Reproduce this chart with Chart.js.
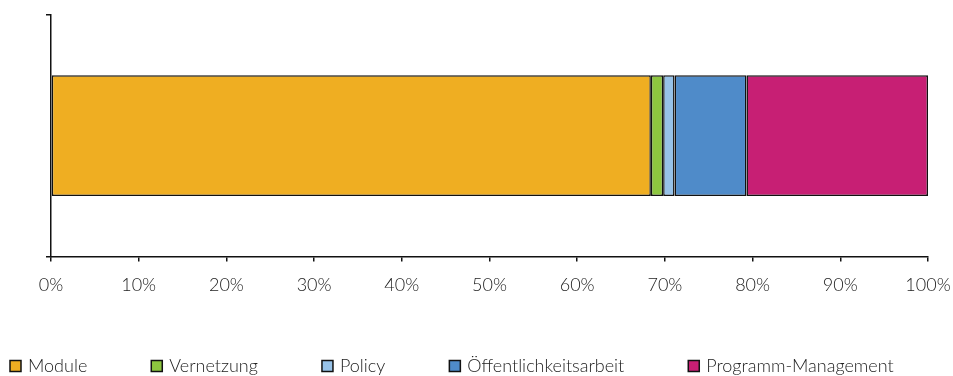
<!DOCTYPE html>
<html>
<head>
<meta charset="utf-8">
<script src="https://cdn.jsdelivr.net/npm/chart.js@4/dist/chart.umd.min.js"></script>
<style>
  body { margin: 0; background: #fff; }
  #wrap { width: 953px; height: 376px; }
</style>
</head>
<body>
<div id="wrap"><canvas id="myChart" width="953" height="376"></canvas></div>
<script>
// data (share in %)
var categories = ['Gesamt'];
var seriesNames = ['Module', 'Vernetzung', 'Policy', 'Öffentlichkeitsarbeit', 'Programm-Management'];
var moduleVals = [68.4];
var vernetzungVals = [1.4];
var policyVals = [1.3];
var oeffentlichVals = [8.2];
var programmVals = [20.7];
var xTicks = [0, 10, 20, 30, 40, 50, 60, 70, 80, 90, 100];

var colors = ['#EFAE22', '#8DC63F', '#97C2E8', '#4F8BC9', '#C71F74'];
var values = [moduleVals, vernetzungVals, policyVals, oeffentlichVals, programmVals];

var fontFamily = 'Lato, "Noto Sans", sans-serif';
Chart.defaults.font.family = fontFamily;
Chart.defaults.font.weight = 300;
Chart.defaults.color = '#333';

// legend drawn along the bottom, left aligned with even gaps
var bottomLegend = {
    id: 'bottomLegend',
    afterDraw: function (chart) {
        var c = chart.ctx;
        c.save();
        c.font = '300 18px ' + fontFamily;
        c.textBaseline = 'middle';
        var x = 10, y = 366;
        chart.data.datasets.forEach(function (ds) {
            c.fillStyle = ds.backgroundColor;
            c.fillRect(x, y - 5.5, 11, 11);
            c.lineWidth = 1.5;
            c.strokeStyle = '#111';
            c.strokeRect(x, y - 5.5, 11, 11);
            c.fillStyle = '#222';
            c.fillText(ds.label, x + 18, y);
            x += 18 + c.measureText(ds.label).width + 64;
        });
        c.restore();
    }
};

var ctx = document.getElementById('myChart').getContext('2d');
var chart = new Chart(ctx, {
    type: 'bar',
    data: {
        labels: categories,
        datasets: seriesNames.map(function (name, i) {
            return {
                label: name,
                data: values[i],
                backgroundColor: colors[i],
                borderColor: '#111',
                borderWidth: 1.5,
                borderSkipped: false,
                barPercentage: 0.5,
                categoryPercentage: 1
            };
        })
    },
    plugins: [bottomLegend],
    options: {
        indexAxis: 'y',
        responsive: false,
        animation: false,
        layout: { padding: { left: 46, right: 0, top: 15, bottom: 67 } },
        plugins: {
            legend: { display: false },
            tooltip: { enabled: false }
        },
        scales: {
            x: {
                stacked: true,
                min: 0,
                max: 100,
                afterBuildTicks: function (axis) {
                    axis.ticks = xTicks.map(function (v) { return { value: v }; });
                },
                afterFit: function (axis) {
                    axis.paddingRight = 25;
                },
                grid: { drawOnChartArea: false, tickLength: 5, color: '#111', lineWidth: 1.5 },
                border: { color: '#111', width: 1.5 },
                ticks: {
                    padding: 13,
                    font: { size: 18, weight: 300 },
                    color: '#222',
                    maxRotation: 0,
                    callback: function (v) { return v + '%'; }
                }
            },
            y: {
                stacked: true,
                grid: { drawOnChartArea: false, tickLength: 5, color: '#111', lineWidth: 1.5 },
                border: { color: '#111', width: 1.5 },
                ticks: { display: false }
            }
        }
    }
});
</script>
</body>
</html>
